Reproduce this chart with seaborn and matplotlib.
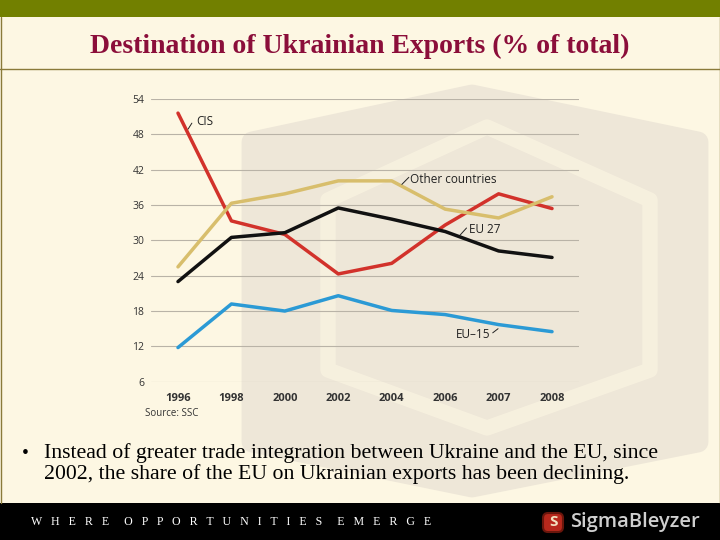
import seaborn as sns
import matplotlib.pyplot as plt
import pandas as pd
from matplotlib.patches import FancyBboxPatch, Rectangle, Polygon

# Data
years = ["1996", "1998", "2000", "2002", "2004", "2006", "2007", "2008"]
cis = [51.6, 33.3, 31.0, 24.3, 26.1, 32.6, 37.9, 35.4]
other = [25.5, 36.3, 37.9, 40.1, 40.1, 35.3, 33.8, 37.4]
eu27 = [23.0, 30.5, 31.3, 35.5, 33.6, 31.5, 28.2, 27.1]
eu15 = [11.8, 19.2, 18.0, 20.6, 18.1, 17.4, 15.7, 14.5]
y_ticks = [6, 12, 18, 24, 30, 36, 42, 48, 54]

series = {"CIS": cis, "Other countries": other, "EU 27": eu27, "EU-15": eu15}
df = pd.DataFrame([
    {"Year": y, "Share": v, "Region": name}
    for name, vals in series.items() for y, v in zip(years, vals)
])
palette = {"CIS": "#D2322B", "Other countries": "#D8BE6C",
           "EU 27": "#111111", "EU-15": "#2B9AD5"}

cream = "#FDF7E3"
shade = "#EEE7D8"
sns.set_style("white")
plt.rcParams['font.family'] = ['Open Sans', 'DejaVu Sans']

fig = plt.figure(figsize=(7.2, 5.4), dpi=100, facecolor=cream)

# slide background / frame
bg = fig.add_axes([0, 0, 1, 1])
bg.set_xlim(0, 720)
bg.set_ylim(540, 0)
bg.axis("off")

# faint logo watermark
hexa = [(252, 142), (472, 95), (698, 142), (698, 442), (472, 487), (252, 442)]
bg.add_patch(Polygon(hexa, closed=True, fc=shade, ec=shade, lw=15, joinstyle="round"))
ring = [(328, 200), (487, 127), (650, 200), (650, 370), (487, 428), (328, 370)]
bg.add_patch(Polygon(ring, closed=True, fill=False, ec=cream, lw=11, joinstyle="round",
                     alpha=0.6))

bg.add_patch(Rectangle((0, 0), 720, 17, fc="#728000", ec="none"))
bg.plot([0, 720], [69, 69], color="#8A7A3A", lw=1)
bg.plot([0.5, 0.5], [17, 503], color="#8A7A3A", lw=1)
bg.plot([719.5, 719.5], [17, 503], color="#8A7A3A", lw=1)
bg.add_patch(Rectangle((0, 503), 720, 37, fc="#000000", ec="none"))
bg.text(360, 46, "Destination of Ukrainian Exports (% of total)", ha="center", va="center",
        fontsize=20, fontweight="bold", color="#8B0E3A", family="Liberation Serif")
bg.text(22, 453, "\u2022", ha="left", va="center", fontsize=14, color="black",
        family="Liberation Serif")
bg.text(44, 453, "Instead of greater trade integration between Ukraine and the EU, since",
        ha="left", va="center", fontsize=15.7, color="black", family="Liberation Serif")
bg.text(44, 474, "2002, the share of the EU on Ukrainian exports has been declining.",
        ha="left", va="center", fontsize=15.7, color="black", family="Liberation Serif")
motto = "     ".join("   ".join(w) for w in ["WHERE", "OPPORTUNITIES", "EMERGE"])
bg.text(31, 522, motto, ha="left", va="center", fontsize=8.6, color="white",
        family="Liberation Serif")
bg.add_patch(FancyBboxPatch((543, 513), 20, 19, boxstyle="round,pad=0,rounding_size=5",
                            fc="#B8281C", ec="#6A160C", lw=1.5))
bg.text(553, 522.5, "S", ha="center", va="center", fontsize=11, fontweight="bold",
        color="#F3E2C0")
bg.text(570, 522, "SigmaBleyzer", ha="left", va="center", fontsize=14.5,
        fontweight="semibold", color="#CFCFCF")
bg.text(145, 413, "Source: SSC", ha="left", va="center", fontsize=7, color="#333333")

# chart
ax = fig.add_axes([0.2101, 0.2931, 0.5937, 0.5236])
ax.patch.set_alpha(0)
sns.lineplot(data=df, x="Year", y="Share", hue="Region", palette=palette,
             linewidth=2.5, legend=False, ax=ax, sort=False)
ax.set_xlim(-0.5, len(years) - 0.5)
ax.set_ylim(y_ticks[0], y_ticks[-1])
ax.set_yticks(y_ticks)
ax.set_xticks(range(len(years)))
ax.set_xticklabels(years, fontsize=8, fontweight="bold", color="#333333")
ax.set_yticklabels([str(t) for t in y_ticks], fontsize=7.5, color="#333333")
ax.set_xticks([i + 0.5 for i in range(-1, len(years))], minor=True)
ax.tick_params(axis="x", which="major", length=0, pad=8)
ax.tick_params(axis="x", which="minor", length=2, color="#A8A298", direction="in")
ax.tick_params(axis="y", length=0, pad=5)
ax.grid(axis="y", color="#B9B3A7", lw=0.8)
ax.set_axisbelow(True)
for s in ax.spines.values():
    s.set_visible(False)
ax.set_xlabel("")
ax.set_ylabel("")

# series labels with small leaders
labels = [("CIS", 0.34, 50.15, (0.19, 48.9), (0.26, 49.9)),
          ("Other countries", 4.34, 40.4, (4.19, 39.5), (4.32, 40.7)),
          ("EU 27", 5.44, 31.76, (5.28, 30.9), (5.40, 32.1)),
          ("EU\u201315", 5.20, 14.05, (5.99, 15.0), (5.89, 14.3))]
for txt, tx, ty, p0, p1 in labels:
    ax.text(tx, ty, txt, ha="left", va="center", fontsize=8.5, color="#222222")
    ax.plot([p0[0], p1[0]], [p0[1], p1[1]], color="#222222", lw=0.7)

plt.savefig("out.png", dpi=100, facecolor=cream)
plt.close()
